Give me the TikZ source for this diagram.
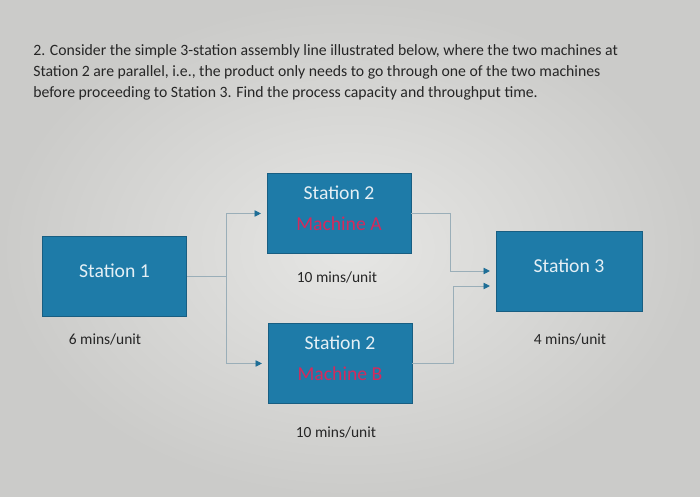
\documentclass[tikz,border=0pt]{standalone}
\usepackage{fontspec}
\setmainfont{Carlito}
\usepackage{xcolor}
\usepackage{tikz}
\usetikzlibrary{arrows.meta, calc}
\definecolor{stationblue}{HTML}{1E7BA8}
\definecolor{stationedge}{HTML}{185E82}
\definecolor{machinered}{HTML}{D42A5C}
\definecolor{linkgray}{HTML}{9AAEB8}
\definecolor{arrowblue}{HTML}{1E6E96}
\definecolor{paperlight}{HTML}{E6E6E4}
\definecolor{paperdark}{HTML}{CBCBC9}

\begin{document}
\begin{tikzpicture}[
    x=0.025cm, y=-0.025cm,
    every node/.style={font=\fontsize{11}{13}\selectfont},
    station/.style={
        rectangle,
        draw=stationedge,
        fill=stationblue,
        line width=0.6pt,
        minimum width=3.6cm,
        minimum height=2cm,
        text=white!88!stationblue,
        font=\fontsize{14}{17}\selectfont,
        align=center,
        execute at end node={\rule[-8pt]{0pt}{0pt}}
    },
    rate/.style={
        text=black!85,
        font=\fontsize{11}{13}\selectfont
    },
    link/.style={
        draw=linkgray,
        line width=0.6pt
    },
    flow/.style={
        -{Triangle[length=1.6mm, width=1.6mm, color=arrowblue]},
        draw=linkgray,
        line width=0.6pt,
        shorten >=1.4mm
    }
]

% Paper background
\shade[inner color=paperlight, outer color=paperdark] (0,0) rectangle (700,497);
\useasboundingbox (0,0) rectangle (700,497);

% Question
\node[anchor=north west, align=left, inner sep=0pt, text=black!85, font=\fontsize{11.2}{14.9}\selectfont] (question) at (33,44.5) {2. Consider the simple 3-station assembly line illustrated below, where the two machines at\\Station 2 are parallel, i.e., the product only needs to go through one of the two machines\\before proceeding to Station 3. Find the process capacity and throughput time.};

% Stations
\node[station] (s1) at (114.5,276.5) {Station 1};
\node[station] (s2a) at (339,213.5) {Station 2\\[5pt]\textcolor{machinered}{Machine A}};
\node[station] (s2b) at (340,363.5) {Station 2\\[5pt]\textcolor{machinered}{Machine B}};
\node[station, minimum width=3.65cm] (s3) at (569,271) {Station 3};

% Processing times
\node[rate] (r1) at (105,339) {6 mins/unit};
\node[rate] (r2a) at (337,277) {10 mins/unit};
\node[rate] (r2b) at (336,432) {10 mins/unit};
\node[rate] (r3) at (570,339) {4 mins/unit};

% Split to the parallel machines
\coordinate (split) at ($(s1.east)+(39,0)$);
\draw[link] (s1.east) -- (split);
\draw[flow] (split) |- (s2a.west);
\draw[flow] (split) |- (s2b.west);

% Merge into Station 3
\draw[flow] (s2a.east) -- ++(39,0) |- (s3.west);
\draw[flow] (s2b.east) -- ++(41,0) |- ([yshift=-0.375cm]s3.west);

\end{tikzpicture}
\end{document}
